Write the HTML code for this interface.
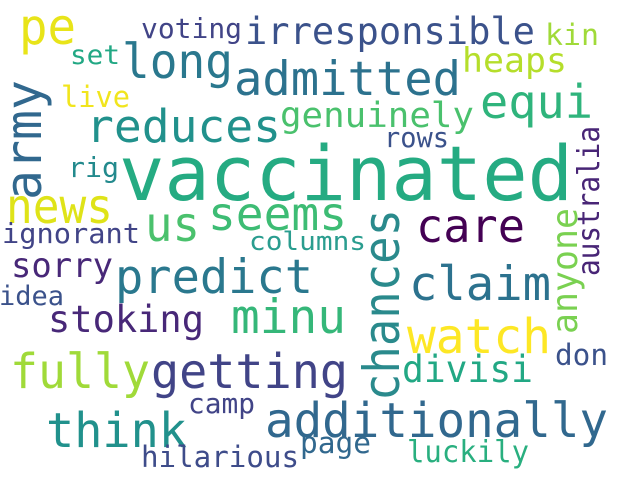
<!DOCTYPE html>
<html><head><meta charset="utf-8"><style>
html,body{margin:0;padding:0;background:#fff;}
svg{display:block;}
text{font-family:"DejaVu Sans Mono","Liberation Mono",monospace;}
</style></head><body>
<svg width="618" height="480" viewBox="0 0 618 480">
<rect width="618" height="480" fill="#fff"/>
<text x="19" y="44" font-size="50" textLength="57" lengthAdjust="spacingAndGlyphs" fill="#e8e419">pe</text>
<text x="141" y="38" font-size="28" textLength="101" lengthAdjust="spacingAndGlyphs" fill="#414487">voting</text>
<text x="245" y="44" font-size="37" textLength="290" lengthAdjust="spacingAndGlyphs" fill="#3b528b">irresponsible</text>
<text x="545" y="45" font-size="29" textLength="54" lengthAdjust="spacingAndGlyphs" fill="#a0da39">kin</text>
<text x="70" y="64" font-size="27" textLength="50" lengthAdjust="spacingAndGlyphs" fill="#22a884">set</text>
<text x="122" y="78" font-size="48" textLength="111" lengthAdjust="spacingAndGlyphs" fill="#2a788e">long</text>
<text x="234" y="95" font-size="47" textLength="227" lengthAdjust="spacingAndGlyphs" fill="#2c728e">admitted</text>
<text x="462" y="72" font-size="34" textLength="105" lengthAdjust="spacingAndGlyphs" fill="#b5de2b">heaps</text>
<text transform="translate(41,200) rotate(-90)" font-size="50" textLength="120" lengthAdjust="spacingAndGlyphs" fill="#31688e">army</text>
<text x="61" y="107" font-size="29" textLength="69" lengthAdjust="spacingAndGlyphs" fill="#f1e51d">live</text>
<text x="480" y="118" font-size="46" textLength="113" lengthAdjust="spacingAndGlyphs" fill="#2fb47c">equi</text>
<text x="86" y="142" font-size="45" textLength="195" lengthAdjust="spacingAndGlyphs" fill="#21918c">reduces</text>
<text x="280" y="127" font-size="35" textLength="194" lengthAdjust="spacingAndGlyphs" fill="#4ac16d">genuinely</text>
<text x="384" y="147" font-size="28" textLength="65" lengthAdjust="spacingAndGlyphs" fill="#3b528b">rows</text>
<text transform="translate(599,276) rotate(-90)" font-size="30" textLength="150" lengthAdjust="spacingAndGlyphs" fill="#482576">australia</text>
<text x="68" y="177" font-size="28" textLength="51" lengthAdjust="spacingAndGlyphs" fill="#238a8d">rig</text>
<text x="119" y="200" font-size="76" textLength="454" lengthAdjust="spacingAndGlyphs" fill="#25ab82">vaccinated</text>
<text x="6" y="223" font-size="48" textLength="107" lengthAdjust="spacingAndGlyphs" fill="#dfe318">news</text>
<text x="145" y="241" font-size="48" textLength="55" lengthAdjust="spacingAndGlyphs" fill="#4ac16d">us</text>
<text x="208" y="230" font-size="46" textLength="139" lengthAdjust="spacingAndGlyphs" fill="#3dbc74">seems</text>
<text transform="translate(399,401) rotate(-90)" font-size="50" textLength="192" lengthAdjust="spacingAndGlyphs" fill="#2a8a8c">chances</text>
<text x="416" y="242" font-size="46" textLength="109" lengthAdjust="spacingAndGlyphs" fill="#440154">care</text>
<text transform="translate(577,334) rotate(-90)" font-size="36" textLength="126" lengthAdjust="spacingAndGlyphs" fill="#7ad151">anyone</text>
<text x="2" y="243" font-size="28" textLength="138" lengthAdjust="spacingAndGlyphs" fill="#414487">ignorant</text>
<text x="249" y="250" font-size="26" textLength="117" lengthAdjust="spacingAndGlyphs" fill="#2a9d8f">columns</text>
<text x="11" y="277" font-size="34" textLength="102" lengthAdjust="spacingAndGlyphs" fill="#482878">sorry</text>
<text x="115" y="293" font-size="47" textLength="198" lengthAdjust="spacingAndGlyphs" fill="#2a788e">predict</text>
<text x="409" y="300" font-size="47" textLength="142" lengthAdjust="spacingAndGlyphs" fill="#2c728e">claim</text>
<text x="-1" y="305" font-size="27" textLength="65" lengthAdjust="spacingAndGlyphs" fill="#3b528b">idea</text>
<text x="48" y="332" font-size="37" textLength="156" lengthAdjust="spacingAndGlyphs" fill="#482878">stoking</text>
<text x="231" y="333" font-size="47" textLength="115" lengthAdjust="spacingAndGlyphs" fill="#35b779">minu</text>
<text x="407" y="353" font-size="48" textLength="144" lengthAdjust="spacingAndGlyphs" fill="#fde725">watch</text>
<text x="555" y="365" font-size="29" textLength="53" lengthAdjust="spacingAndGlyphs" fill="#3b528b">don</text>
<text x="10" y="388" font-size="48" textLength="140" lengthAdjust="spacingAndGlyphs" fill="#a0da39">fully</text>
<text x="151" y="388" font-size="48" textLength="197" lengthAdjust="spacingAndGlyphs" fill="#414487">getting</text>
<text x="402" y="382" font-size="37" textLength="131" lengthAdjust="spacingAndGlyphs" fill="#22a884">divisi</text>
<text x="188" y="413" font-size="28" textLength="67" lengthAdjust="spacingAndGlyphs" fill="#414487">camp</text>
<text x="46" y="447" font-size="48" textLength="141" lengthAdjust="spacingAndGlyphs" fill="#21918c">think</text>
<text x="265" y="437" font-size="48" textLength="343" lengthAdjust="spacingAndGlyphs" fill="#31688e">additionally</text>
<text x="300" y="453" font-size="29" textLength="71" lengthAdjust="spacingAndGlyphs" fill="#31688e">page</text>
<text x="141" y="467" font-size="29" textLength="158" lengthAdjust="spacingAndGlyphs" fill="#3e4c8a">hilarious</text>
<text x="407" y="462" font-size="30" textLength="122" lengthAdjust="spacingAndGlyphs" fill="#29af7f">luckily</text>
</svg>
</body></html>
